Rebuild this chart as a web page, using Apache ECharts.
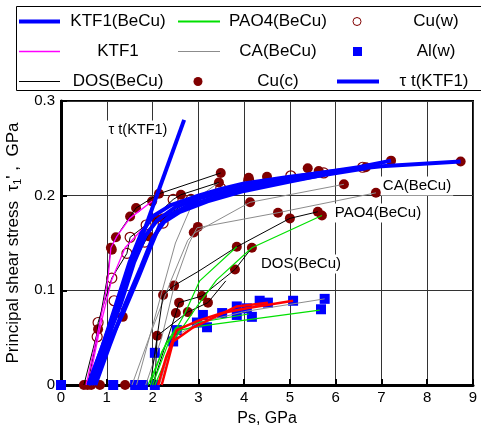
<!DOCTYPE html>
<html><head><meta charset="utf-8">
<script src="https://cdn.jsdelivr.net/npm/echarts@6/dist/echarts.min.js"></script>
<style>html,body{margin:0;padding:0;background:#fff}#c{width:481px;height:425px}</style>
</head><body><div id="c"></div>
<script>
// ---------- data (Ps GPa, tau GPa) ----------
const xTickValues = [0,1,2,3,4,5,6,7,8,9];
const yTickValues = [0,0.1,0.2,0.3];

const ktf1BeCu_1 = [[0.6,0],[0.9,0.04],[1.2,0.085],[1.5,0.13],[1.75,0.16],[2.0,0.178],[2.4,0.19],[3,0.2],[3.5,0.207],[4,0.213],[5,0.22],[6,0.226],[7,0.231],[8.73,0.236]];
const ktf1BeCu_2 = [[0.65,0],[0.95,0.04],[1.3,0.085],[1.6,0.13],[1.85,0.158],[2.1,0.174],[2.5,0.188],[3,0.197],[3.8,0.207],[4.5,0.215],[5.5,0.223],[6.5,0.23],[7.21,0.237]];
const ktf1BeCu_3 = [[0.7,0],[1.0,0.04],[1.35,0.075],[1.7,0.115],[1.95,0.145],[2.15,0.168],[2.4,0.18],[2.8,0.19],[3.5,0.2],[4.5,0.212],[5.5,0.22],[6.66,0.229]];
const ktf1BeCu_4 = [[0.75,0],[1.05,0.04],[1.4,0.085],[1.75,0.125],[2.0,0.155],[2.25,0.172],[2.6,0.183],[3.2,0.194],[4,0.205],[5,0.215],[5.74,0.222]];

const ktf1_1 = [[0.55,0],[0.8,0.055],[0.95,0.09],[1.03,0.114],[1.09,0.145],[1.22,0.157],[1.5,0.176],[1.99,0.194]];
const ktf1_2 = [[0.6,0],[0.85,0.06],[1.1,0.11],[1.4,0.145],[1.86,0.169]];

const dos_1 = [[0.5,0],[0.81,0.059],[1.0,0.11],[1.09,0.145],[1.2,0.156],[1.51,0.178],[1.64,0.187],[2.14,0.202],[3.49,0.224]];
const dos_2 = [[0.58,0],[0.79,0.051],[0.81,0.066],[1.11,0.113],[1.44,0.139],[1.51,0.156],[1.86,0.169],[2.45,0.196],[2.62,0.201],[3.45,0.214]];
const dos_3 = [[0.66,0],[1.0,0.04],[1.24,0.077],[1.6,0.13],[1.83,0.151],[2.07,0.176],[2.23,0.176],[2.84,0.196]];
const dos_4 = [[1.95,0],[2.23,0.095],[2.47,0.105],[3.0,0.12],[3.84,0.146],[5.0,0.176],[5.61,0.183]];
const dos_5 = [[2.0,0],[2.51,0.076],[2.58,0.087],[3.08,0.094],[3.8,0.122],[4.17,0.145]];
const dos_6 = [[2.05,0],[2.1,0.052],[2.77,0.077],[3.21,0.087],[3.6,0.11]];

const pao4_1 = [[1.9,0],[2.3,0.045],[2.6,0.058],[3.0,0.062],[5.65,0.079]];
const pao4_2 = [[1.95,0],[2.2,0.035],[2.5,0.06],[3.0,0.066],[4.1,0.075]];
const pao4_3 = [[2.0,0],[2.35,0.045],[2.7,0.075],[3.03,0.11],[3.84,0.146]];
const pao4_4 = [[2.05,0],[2.5,0.05],[3.0,0.085],[3.4,0.111],[4.17,0.145],[5.7,0.179]];

const ca_1 = [[1.55,0],[2.0,0.06],[2.4,0.11],[2.77,0.153],[2.93,0.161],[4.13,0.193],[6.18,0.212]];
const ca_2 = [[1.85,0],[2.2,0.05],[2.49,0.108],[2.8,0.15],[2.97,0.166],[4.74,0.182],[6.88,0.203]];
const ca_3 = [[1.65,0],[2.1,0.08],[2.5,0.15],[2.9,0.195],[3.45,0.214]];
const ca_4 = [[2.15,0],[2.45,0.05],[3.0,0.066],[4.06,0.078],[5.76,0.091]];

const red_1 = [[2.12,0],[2.3,0.03],[2.53,0.058],[3.0,0.068],[3.52,0.076],[4.06,0.081],[5.07,0.089]];
const red_2 = [[2.2,0],[2.45,0.046],[2.86,0.06],[3.84,0.083],[4.52,0.087]];

const tauT = [[0.6,0],[2.69,0.28]];

const cuW = [[0.79,0.051],[0.81,0.066],[1.11,0.113],[1.16,0.089],[1.24,0.077],[1.44,0.139],[1.51,0.156],[1.83,0.151],[1.86,0.169],[2.23,0.171],[2.45,0.196],[2.84,0.196],[3.49,0.208],[4.10,0.216],[5.02,0.221],[5.74,0.224],[6.59,0.230]];

const cuC = [[0.5,0],[0.58,0],[0.66,0],[0.85,0],[1.4,0],[0.81,0.059],[1.35,0.072],[1.09,0.145],[1.11,0.143],[1.2,0.156],[1.51,0.178],[1.64,0.187],[1.99,0.194],[2.14,0.202],[2.62,0.201],[1.92,0.157],[2.07,0.176],[2.23,0.176],[2.99,0.167],[2.9,0.161],[3.49,0.224],[3.45,0.214],[4.1,0.219],[4.5,0.22],[5.39,0.229],[5.63,0.226],[6.18,0.212],[7.21,0.237],[8.73,0.236],[6.66,0.23],[6.88,0.203],[4.13,0.193],[4.74,0.182],[5.0,0.176],[5.61,0.183],[5.7,0.179],[3.84,0.146],[4.17,0.145],[3.8,0.122],[2.47,0.105],[2.23,0.095],[3.08,0.094],[2.58,0.087],[3.21,0.087],[2.77,0.077],[2.51,0.076],[2.1,0.052]];

const alW = [[0,0],[1.14,0],[1.62,0],[1.79,0],[2.05,0],[2.05,0.034],[2.45,0.046],[2.53,0.058],[2.97,0.066],[3.1,0.074],[3.19,0.061],[3.52,0.076],[3.84,0.083],[3.84,0.074],[4.06,0.081],[4.17,0.072],[4.34,0.089],[4.52,0.087],[5.07,0.089],[5.76,0.091],[5.68,0.08]];

const legendNames = ['KTF1(BeCu)','KTF1','DOS(BeCu)','PAO4(BeCu)','CA(BeCu)','Cu(c)','Cu(w)','Al(w)','τ t(KTF1)'];
const annotations = ['τ t(KTF1)','CA(BeCu)','PAO4(BeCu)','DOS(BeCu)'];

// ---------- chart ----------
const F = 'Arial, "Liberation Sans", sans-serif';
const MAROON = '#800000', BLUE = '#0000ff';
function line(name, pts, color, width){
  return {type:'line', name, data:pts, showSymbol:false, symbol:'none', clip:false,
    lineStyle:{color, width, opacity:1}, itemStyle:{color}, animation:false};
}
const series = [];
[ca_1,ca_2,ca_3,ca_4].forEach(d=>series.push(line('CA(BeCu)', d, '#8c8c8c', 1)));
[dos_1,dos_2,dos_3,dos_4,dos_5,dos_6].forEach(d=>series.push(line('DOS(BeCu)', d, '#000', 1)));
[pao4_1,pao4_2,pao4_3,pao4_4].forEach(d=>series.push(line('PAO4(BeCu)', d, '#00e000', 1.2)));
[ktf1_1,ktf1_2].forEach(d=>series.push(line('KTF1', d, '#ff00ff', 1.3)));
[red_1,red_2].forEach(d=>series.push(line('red', d, '#ff0000', 2.5)));
[ktf1BeCu_1,ktf1BeCu_2,ktf1BeCu_3,ktf1BeCu_4].forEach(d=>series.push(line('KTF1(BeCu)', d, BLUE, 4)));
series.push(line('τ t(KTF1)', tauT, BLUE, 4));
series.push({type:'scatter', name:'Cu(w)', data:cuW, symbol:'circle', symbolSize:10, clip:false,
  itemStyle:{color:'rgba(0,0,0,0)', borderColor:MAROON, borderWidth:1.2, opacity:1}});
series.push({type:'scatter', name:'Cu(c)', data:cuC, symbol:'circle', symbolSize:10, clip:false,
  itemStyle:{color:MAROON, opacity:1}});
series.push({type:'scatter', name:'Al(w)', data:alW, symbol:'rect', symbolSize:10, clip:false,
  itemStyle:{color:BLUE, opacity:1}});

// legend drawn as graphic (column layout)
const g = [];
g.push({type:'rect', shape:{x:16.5,y:6.5,width:470,height:84}, style:{fill:'#fff',stroke:'#000',lineWidth:1}, z:100});
function lgLine(x1,x2,y,color,w){ g.push({type:'line', shape:{x1,y1:y,x2,y2:y}, style:{stroke:color,lineWidth:w}, z:101}); }
function lgText(cx,y,t){ g.push({type:'text', x:cx, y:y, style:{text:t, fill:'#000', fontSize:17, fontFamily:F, align:'center', verticalAlign:'middle'}, z:101}); }
const rows = [21.5, 51.5, 81.5];
lgLine(19,60,rows[0],BLUE,4);   lgText(118,rows[0],legendNames[0]);
lgLine(19,60,rows[1],'#ff00ff',1.5); lgText(118,rows[1],legendNames[1]);
lgLine(19,60,rows[2],'#000',1); lgText(118,rows[2],legendNames[2]);
lgLine(178,220,rows[0],'#00e000',2); lgText(278,rows[0],legendNames[3]);
lgLine(178,220,rows[1],'#8c8c8c',1); lgText(278,rows[1],legendNames[4]);
g.push({type:'circle', shape:{cx:198,cy:rows[2],r:4.5}, style:{fill:MAROON}, z:101}); lgText(278,rows[2],legendNames[5]);
g.push({type:'circle', shape:{cx:357,cy:rows[0],r:4}, style:{fill:'#fff',stroke:MAROON,lineWidth:1}, z:101}); lgText(436,rows[0],legendNames[6]);
g.push({type:'rect', shape:{x:353,y:rows[1]-4.5,width:9,height:9}, style:{fill:BLUE}, z:101}); lgText(436,rows[1],legendNames[7]);
lgLine(337,379,rows[2],BLUE,4); lgText(434,rows[2],legendNames[8]);

// annotations with white boxes
function ann(cx,cy,t,fs){ g.push({type:'text', x:cx, y:cy, style:{text:t, fill:'#000', fontSize:fs, fontFamily:F, align:'center', verticalAlign:'middle', backgroundColor:'#fff', padding:[2,2,2,2]}, z:50}); }
ann(138,130,annotations[0],14.5);
ann(417,186,annotations[1],15);
ann(378,213,annotations[2],15);
ann(301,264,annotations[3],15);

const chart = echarts.init(document.getElementById('c'), null, {renderer:'canvas'});
chart.setOption({
  animation:false,
  backgroundColor:'#fff',
  grid:{left:61, right:8, top:101, bottom:40, containLabel:false, outerBoundsMode:'none',
    show:true, borderColor:'#000', borderWidth:2, backgroundColor:'transparent'},
  xAxis:{type:'value', min:0, max:9, interval:1,
    name:'Ps, GPa', nameLocation:'middle', nameGap:26, nameTextStyle:{fontSize:16, fontFamily:F, color:'#000'},
    axisLine:{show:true, onZero:false, lineStyle:{color:'#000', width:3}},
    axisTick:{show:true, inside:true, length:6, lineStyle:{color:'#000', width:2}},
    axisLabel:{fontSize:15, fontFamily:F, color:'#000', margin:5},
    splitLine:{show:true, lineStyle:{color:'#333', width:1}}},
  yAxis:{type:'value', min:0, max:0.3, interval:0.1,
    name:'Principal shear stress  τ{s|1}\' ,  GPa', nameLocation:'middle', nameGap:38, nameRotate:90,
    nameTextStyle:{fontSize:17, fontFamily:F, color:'#000', rich:{s:{fontSize:11, fontFamily:F, color:'#000', padding:[8,0,0,0]}}},
    axisLine:{show:true, onZero:false, lineStyle:{color:'#000', width:3}},
    axisTick:{show:true, inside:true, length:6, lineStyle:{color:'#000', width:2}},
    axisLabel:{fontSize:15, fontFamily:F, color:'#000', margin:6, formatter:v=>String(+v.toFixed(1))},
    splitLine:{show:true, lineStyle:{color:'#333', width:1}}},
  series,
  graphic:g
});
</script></body></html>
